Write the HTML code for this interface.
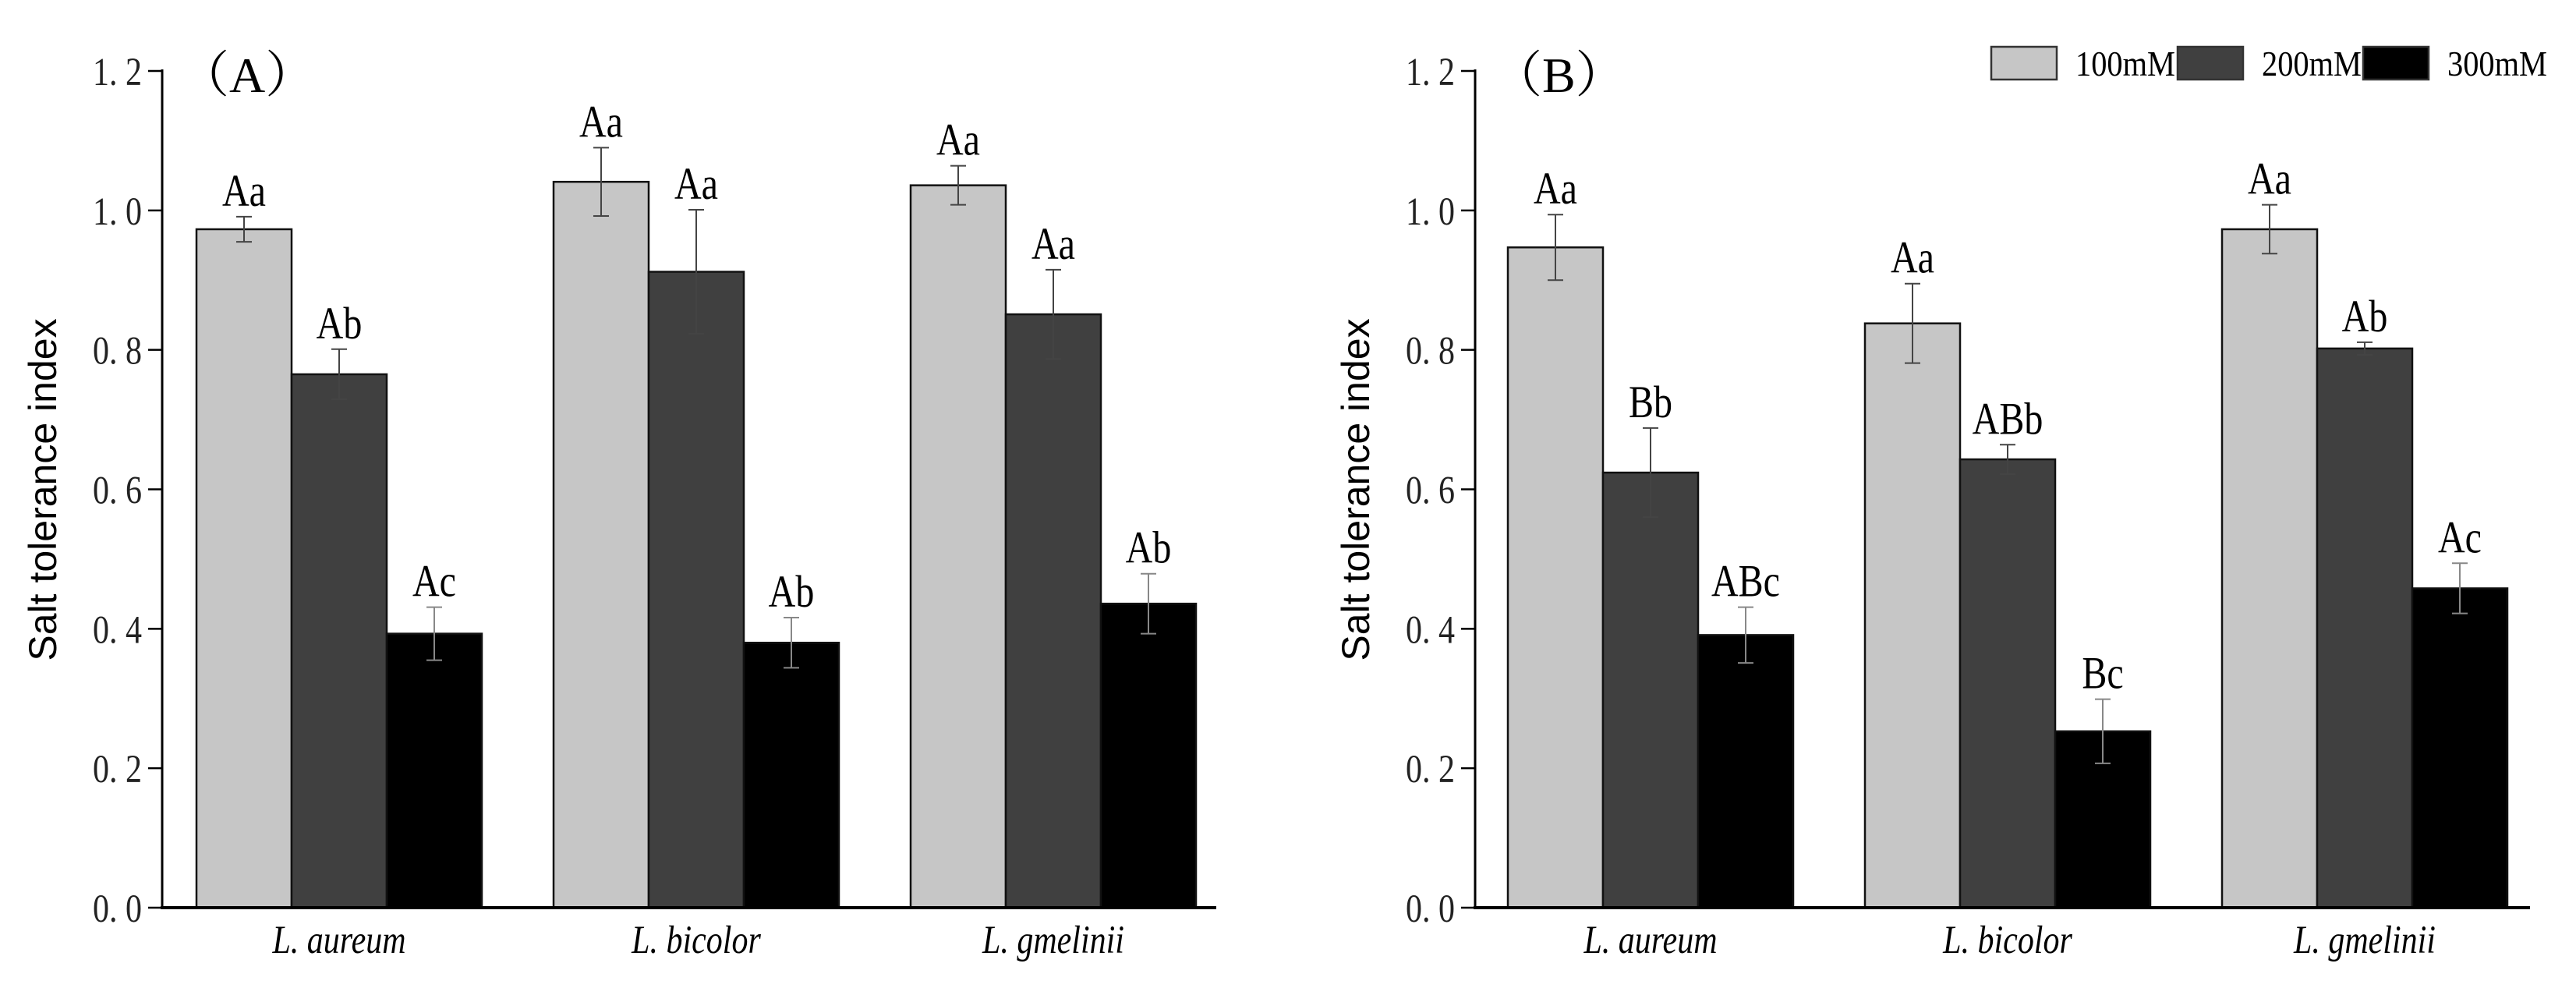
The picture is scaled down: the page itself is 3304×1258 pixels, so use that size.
<!DOCTYPE html>
<html><head><meta charset="utf-8"><style>
html,body{margin:0;padding:0;background:#fff;}
svg{display:block;}
</style></head><body>
<svg id="chart" width="3304" height="1258" viewBox="0 0 3304 1258" xmlns="http://www.w3.org/2000/svg"></svg>
<script>
const categories = ["L. aureum", "L. bicolor", "L. gmelinii"];
const seriesNames = ["100mM", "200mM", "300mM"];
const yTicks = [0, 0.2, 0.4, 0.6, 0.8, 1.0, 1.2];
const yTickLabels = ["0. 0", "0. 2", "0. 4", "0. 6", "0. 8", "1. 0", "1. 2"];
// Panel A
const aValues100 = [0.973, 1.041, 1.036];
const aValues200 = [0.765, 0.912, 0.851];
const aValues300 = [0.393, 0.380, 0.436];
const aErr100 = [0.018, 0.049, 0.028];
const aErr200 = [0.036, 0.089, 0.064];
const aErr300 = [0.038, 0.036, 0.043];
const aLetters100 = ["Aa", "Aa", "Aa"];
const aLetters200 = ["Ab", "Aa", "Aa"];
const aLetters300 = ["Ac", "Ab", "Ab"];
// Panel B
const bValues100 = [0.947, 0.838, 0.973];
const bValues200 = [0.624, 0.643, 0.802];
const bValues300 = [0.391, 0.253, 0.458];
const bErr100 = [0.047, 0.057, 0.035];
const bErr200 = [0.064, 0.021, 0.009];
const bErr300 = [0.040, 0.046, 0.036];
const bLetters100 = ["Aa", "Aa", "Aa"];
const bLetters200 = ["Bb", "ABb", "Ab"];
const bLetters300 = ["ABc", "Bc", "Ac"];

const NS = "http://www.w3.org/2000/svg";
const svg = document.getElementById("chart");
const colors = ["#c6c6c6", "#404040", "#000000"];
const SERIF = '"Liberation Serif", "Noto Serif CJK SC", serif';

function mk(tag, attrs, parent) {
  const e = document.createElementNS(NS, tag);
  for (const k in attrs) e.setAttribute(k, attrs[k]);
  (parent || svg).appendChild(e);
  return e;
}

function drawPanel(cfg) {
  const g = mk("g", {});
  
  
  const y0 = 1164, yTop = 91, ymax = 1.2;
  const yScale = v => y0 - (v / ymax) * (y0 - yTop);
  const groupStep = 458, barW = 122;
  const xBar = (ci, si) => cfg.firstBar + ci * groupStep + si * barW;

  const ya = mk("line", {x1: cfg.axisX, y1: yTop - 2, x2: cfg.axisX, y2: y0, stroke: "#000", "stroke-width": 3}, g);
  
  
  yTicks.forEach((t, i) => {
    const y = yScale(t);
    const tk = mk("line", {x1: cfg.axisX - 18, y1: y, x2: cfg.axisX, y2: y, stroke: "#000", "stroke-width": 2.5}, g);
    
    
    const tl = mk("text", {x: cfg.axisX - 26, y: y + 15, "text-anchor": "end", "font-family": SERIF, "font-size": 42, fill: "#222", transform: `translate(0 ${y}) scale(1 1.2) translate(0 ${-y})`}, g);
    tl.textContent = yTickLabels[i];
    
    
  });
  const yt = mk("text", {x: 0, y: 0, "text-anchor": "middle", "font-family": '"Liberation Sans", sans-serif', "font-size": 50, fill: "#000", transform: `translate(${cfg.axisX - 136} 628) rotate(-90)`}, g);
  yt.textContent = "Salt tolerance index";
  
  

  const vals = [cfg.v100, cfg.v200, cfg.v300];
  const errs = [cfg.e100, cfg.e200, cfg.e300];
  const lets = [cfg.l100, cfg.l200, cfg.l300];
  categories.forEach((c, ci) => {
    for (let si = 0; si < 3; si++) {
      const x = xBar(ci, si), v = vals[si][ci], y = yScale(v);
      const r = mk("rect", {x: x, y: y, width: barW, height: y0 - y, fill: colors[si], stroke: "#111", "stroke-width": 2.5}, g);
      
      
      const cx = x + barW / 2, e = errs[si][ci];
      const yt1 = yScale(v + e), yb1 = yScale(v - e);
      const eb = mk("path", {d: `M${cx} ${yt1}V${yb1}M${cx - 10} ${yt1}H${cx + 10}M${cx - 10} ${yb1}H${cx + 10}`, stroke: si === 2 ? "#888" : "#444", "stroke-width": 2, fill: "none"}, g);
      
      
      const ly = yt1 - 14;
      const lt = mk("text", {x: cx, y: ly, "text-anchor": "middle", "font-family": SERIF, "font-size": 48, fill: "#000", transform: `translate(0 ${ly}) scale(1 1.22) translate(0 ${-ly})`}, g);
      lt.textContent = lets[si][ci];
      
      
    }
    const ct = mk("text", {x: xBar(ci, 1) + barW / 2, y: 1222, "text-anchor": "middle", "font-family": SERIF, "font-style": "italic", "font-size": 42, fill: "#000", transform: `translate(0 1222) scale(1 1.2) translate(0 -1222)`}, g);
    ct.textContent = c;
    
    
  });
  const xa = mk("line", {x1: cfg.axisX - 2, y1: y0, x2: cfg.axisEnd, y2: y0, stroke: "#000", "stroke-width": 4}, g);
  
  

  const pl = mk("text", {x: cfg.axisX + 22, y: 118, "font-family": SERIF, "font-size": 64, fill: "#000"}, g);
  pl.textContent = cfg.label;
  
  
}

drawPanel({name: "panel-a", label: "（A）", axisX: 208, axisEnd: 1560, firstBar: 252,
  v100: aValues100, v200: aValues200, v300: aValues300, e100: aErr100, e200: aErr200, e300: aErr300,
  l100: aLetters100, l200: aLetters200, l300: aLetters300});
drawPanel({name: "panel-b", label: "（B）", axisX: 1892, axisEnd: 3245, firstBar: 1934,
  v100: bValues100, v200: bValues200, v300: bValues300, e100: bErr100, e200: bErr200, e300: bErr300,
  l100: bLetters100, l200: bLetters200, l300: bLetters300});

const lg = mk("g", {});


const legendX = [2554, 2793, 3031];
seriesNames.forEach((s, i) => {
  const r = mk("rect", {x: legendX[i], y: 60, width: 84, height: 42, fill: colors[i], stroke: "#333", "stroke-width": 2.5}, lg);
  
  
  const t = mk("text", {x: legendX[i] + 108, y: 97, "font-family": SERIF, "font-size": 40, fill: "#000", textLength: 128, lengthAdjust: "spacingAndGlyphs", transform: "translate(0 97) scale(1 1.15) translate(0 -97)"}, lg);
  t.textContent = s;
  
  
});
</script>
</body></html>
